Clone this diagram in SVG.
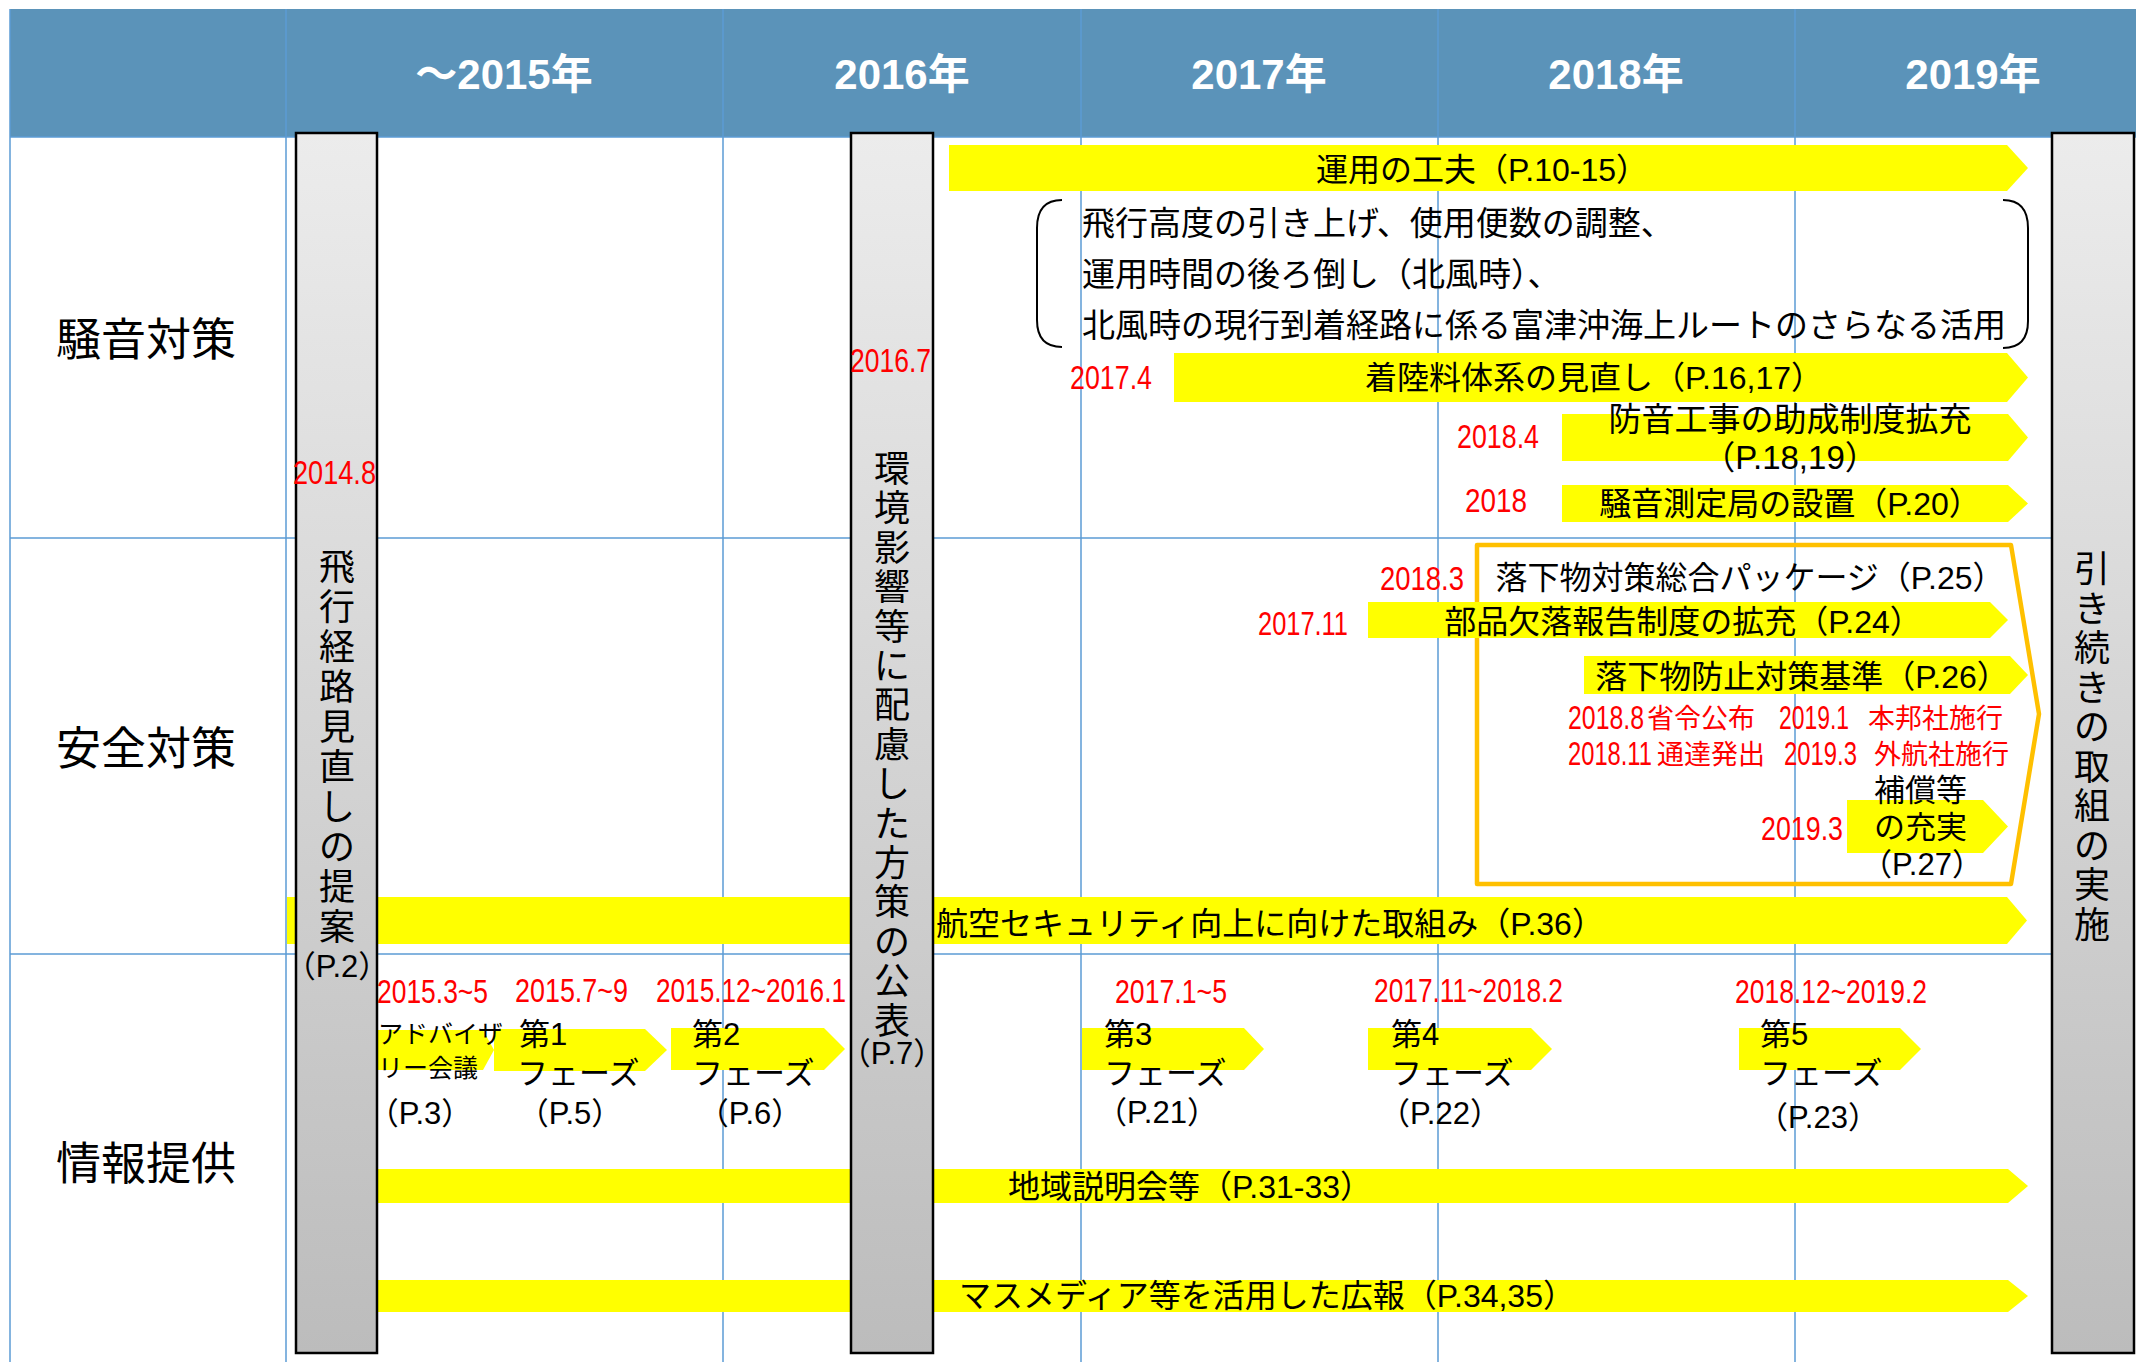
<svg xmlns="http://www.w3.org/2000/svg" width="2136" height="1362" viewBox="0 0 2136 1362">
<defs>
<linearGradient id="barg" x1="0" y1="0" x2="0" y2="1">
<stop offset="0" stop-color="#ececec"/>
<stop offset="1" stop-color="#bcbcbc"/>
</linearGradient>
<style>
text { font-family: "Liberation Sans", "Noto Sans CJK JP", sans-serif; fill: #000; }
.hd { font-size: 42px; font-weight: bold; fill: #fff; text-anchor: middle; }
.row { font-size: 45px; text-anchor: middle; }
.m { font-size: 32px; }
.c { text-anchor: middle; }
.v { font-size: 36px; text-anchor: middle; }
.red { fill: #ff0000; font-size: 34px; }
.redj { fill: #ff0000; font-size: 27px; }
.s25 { font-size: 25px; }
.s31 { font-size: 31px; }
.arr { fill: #ffff00; }
.grid { stroke: #5b9bd5; stroke-width: 1.5; fill: none; }
.bar { fill: url(#barg); stroke: #000; stroke-width: 2.5; }
.brk { fill: none; stroke: #000; stroke-width: 2; }
</style>
</defs>
<rect x="0" y="0" width="2136" height="1362" fill="#fff"/>
<g id="header">
<rect x="10" y="9" width="2126" height="128" fill="#5b93b9"/>
<text class="hd" x="504" y="89">～2015年</text>
<text class="hd" x="902" y="89">2016年</text>
<text class="hd" x="1259" y="89">2017年</text>
<text class="hd" x="1616" y="89">2018年</text>
<text class="hd" x="1973" y="89">2019年</text>
</g>
<g id="grid">
<line class="grid" x1="10" y1="9" x2="10" y2="1362"/>
<line class="grid" x1="286" y1="9" x2="286" y2="1362"/>
<line class="grid" x1="723" y1="9" x2="723" y2="1362"/>
<line class="grid" x1="1081" y1="9" x2="1081" y2="1362"/>
<line class="grid" x1="1438" y1="9" x2="1438" y2="1362"/>
<line class="grid" x1="1795" y1="9" x2="1795" y2="1362"/>
<line class="grid" x1="10" y1="137" x2="2136" y2="137"/>
<line class="grid" x1="10" y1="538" x2="2052" y2="538"/>
<line class="grid" x1="10" y1="954" x2="2052" y2="954"/>
</g>
<g id="row-labels">
<text class="row" x="146" y="356">騒音対策</text>
<text class="row" x="146" y="765">安全対策</text>
<text class="row" x="146" y="1180">情報提供</text>
</g>
<g id="safety-box">
<polygon points="1477,545 2011,545 2039,714 2011,884 1477,884" fill="none" stroke="#ffc000" stroke-width="4.5" stroke-linejoin="round"/>
</g>
<g id="connectors">
<polygon class="arr" points="949,145 2007,145 2028,168 2007,191 949,191"/>
<polygon class="arr" points="1174,353 2007,353 2028,377.5 2007,402 1174,402"/>
<polygon class="arr" points="1562,414 2008,414 2028,437.5 2008,461 1562,461"/>
<polygon class="arr" points="1562,485 2008,485 2028,503.5 2008,522 1562,522"/>
<polygon class="arr" points="1368,602 1990,602 2008,620 1990,638 1368,638"/>
<polygon class="arr" points="1584,656 2010,656 2028,675 2010,694 1584,694"/>
<polygon class="arr" points="1847,800 1983,800 2008,826.5 1983,853 1847,853"/>
<polygon class="arr" points="287,897 2007,897 2027,920.5 2007,944 287,944"/>
<polygon class="arr" points="360,1030 483,1030 494,1050 483,1070 360,1070"/>
<polygon class="arr" points="494,1029 645,1029 667,1050 645,1071 494,1071"/>
<polygon class="arr" points="671,1028 824,1028 845,1049 824,1070 671,1070"/>
<polygon class="arr" points="1082,1028 1244,1028 1264,1049 1244,1070 1082,1070"/>
<polygon class="arr" points="1368,1028 1531,1028 1552,1049 1531,1070 1368,1070"/>
<polygon class="arr" points="1739,1028 1900,1028 1921,1049 1900,1070 1739,1070"/>
<polygon class="arr" points="360,1169 2008,1169 2028,1186 2008,1203 360,1203"/>
<polygon class="arr" points="360,1280 2008,1280 2028,1296 2008,1312 360,1312"/>
<path class="brk" d="M1062,200 Q1037,200 1037,228 L1037,320 Q1037,347 1062,347"/>
<path class="brk" d="M2003,200 Q2028,200 2028,228 L2028,321 Q2028,348 2003,348"/>
</g>
<g id="bar-proposal">
<rect class="bar" x="296" y="133" width="81" height="1220"/>
<text class="v"><tspan x="337" y="580">飛</tspan><tspan x="337" y="620">行</tspan><tspan x="337" y="660">経</tspan><tspan x="337" y="700">路</tspan><tspan x="337" y="740">見</tspan><tspan x="337" y="780">直</tspan><tspan x="337" y="820">し</tspan><tspan x="337" y="860">の</tspan><tspan x="337" y="900">提</tspan><tspan x="337" y="940">案</tspan></text>
<text class="s31 c" x="337" y="977">（P.2）</text>
<text class="red" x="293" y="484" textLength="83" lengthAdjust="spacingAndGlyphs">2014.8</text>
</g>
<g id="bar-publish">
<rect class="bar" x="851" y="133" width="82" height="1220"/>
<text class="v"><tspan x="892" y="482">環</tspan><tspan x="892" y="521.4">境</tspan><tspan x="892" y="560.8">影</tspan><tspan x="892" y="600.2">響</tspan><tspan x="892" y="639.6">等</tspan><tspan x="892" y="679">に</tspan><tspan x="892" y="718.4">配</tspan><tspan x="892" y="757.8">慮</tspan><tspan x="892" y="797.2">し</tspan><tspan x="892" y="836.6">た</tspan><tspan x="892" y="876">方</tspan><tspan x="892" y="915.4">策</tspan><tspan x="892" y="954.8">の</tspan><tspan x="892" y="994.2">公</tspan><tspan x="892" y="1033.6">表</tspan></text>
<text class="s31 c" x="892" y="1064">（P.7）</text>
<text class="red" x="850" y="372" textLength="81" lengthAdjust="spacingAndGlyphs">2016.7</text>
</g>
<g id="bar-continue">
<rect class="bar" x="2052" y="133" width="82" height="1220"/>
<text class="v"><tspan x="2092" y="582">引</tspan><tspan x="2092" y="621.5">き</tspan><tspan x="2092" y="661">続</tspan><tspan x="2092" y="700.5">き</tspan><tspan x="2092" y="740">の</tspan><tspan x="2092" y="779.5">取</tspan><tspan x="2092" y="819">組</tspan><tspan x="2092" y="858.5">の</tspan><tspan x="2092" y="898">実</tspan><tspan x="2092" y="937.5">施</tspan></text>
</g>
<g id="noise">
<text class="m c" x="1482" y="181">運用の工夫（P.10-15）</text>
<text style="font-size:33px" x="1082" y="235">飛行高度の引き上げ、使用便数の調整、</text>
<text style="font-size:33px" x="1082" y="286">運用時間の後ろ倒し（北風時）、</text>
<text style="font-size:33px" x="1082" y="337">北風時の現行到着経路に係る富津沖海上ルートのさらなる活用</text>
<text class="red" x="1070" y="389" textLength="82" lengthAdjust="spacingAndGlyphs">2017.4</text>
<text class="m c" x="1594" y="389">着陸料体系の見直し（P.16,17）</text>
<text class="red" x="1457" y="448" textLength="82" lengthAdjust="spacingAndGlyphs">2018.4</text>
<text class="c" style="font-size:33px" x="1790" y="431">防音工事の助成制度拡充</text>
<text class="c" style="font-size:33px" x="1790" y="469">（P.18,19）</text>
<text class="red" x="1465" y="512" textLength="62" lengthAdjust="spacingAndGlyphs">2018</text>
<text class="m c" x="1790" y="515">騒音測定局の設置（P.20）</text>
</g>
<g id="safety">
<text class="red" x="1380" y="590" textLength="84" lengthAdjust="spacingAndGlyphs">2018.3</text>
<text class="m c" x="1750" y="589">落下物対策総合パッケージ（P.25）</text>
<text class="red" x="1258" y="635" textLength="90" lengthAdjust="spacingAndGlyphs">2017.11</text>
<text class="m c" x="1683" y="633">部品欠落報告制度の拡充（P.24）</text>
<text class="m c" x="1802" y="688">落下物防止対策基準（P.26）</text>
<text class="red" x="1568" y="729" textLength="76" lengthAdjust="spacingAndGlyphs">2018.8</text>
<text class="redj" x="1647" y="728">省令公布</text>
<text class="red" x="1779" y="729" textLength="70" lengthAdjust="spacingAndGlyphs">2019.1</text>
<text class="redj" x="1868" y="728">本邦社施行</text>
<text class="red" x="1568" y="765" textLength="84" lengthAdjust="spacingAndGlyphs">2018.11</text>
<text class="redj" x="1657" y="764">通達発出</text>
<text class="red" x="1784" y="765" textLength="73" lengthAdjust="spacingAndGlyphs">2019.3</text>
<text class="redj" x="1874" y="764">外航社施行</text>
<text style="font-size:31px" x="1874" y="801">補償等</text>
<text class="red" x="1761" y="840" textLength="82" lengthAdjust="spacingAndGlyphs">2019.3</text>
<text style="font-size:31px" x="1874" y="838">の充実</text>
<text class="s31 c" x="1922" y="875">（P.27）</text>
<text class="m c" x="1270" y="935">航空セキュリティ向上に向けた取組み（P.36）</text>
</g>
<g id="info">
<text class="red" x="377" y="1003" textLength="111" lengthAdjust="spacingAndGlyphs">2015.3~5</text>
<text class="red" x="515" y="1002" textLength="113" lengthAdjust="spacingAndGlyphs">2015.7~9</text>
<text class="red" x="656" y="1002" textLength="190" lengthAdjust="spacingAndGlyphs">2015.12~2016.1</text>
<text class="red" x="1115" y="1003" textLength="112" lengthAdjust="spacingAndGlyphs">2017.1~5</text>
<text class="red" x="1374" y="1002" textLength="189" lengthAdjust="spacingAndGlyphs">2017.11~2018.2</text>
<text class="red" x="1735" y="1003" textLength="192" lengthAdjust="spacingAndGlyphs">2018.12~2019.2</text>
<text class="s25" x="378" y="1043">アドバイザ</text>
<text class="s25" x="378" y="1077">リー会議</text>
<text class="s31 c" x="420" y="1124">（P.3）</text>
<text class="s31" x="519" y="1045">第1</text>
<text class="s31" x="517" y="1084">フェーズ</text>
<text class="s31 c" x="570" y="1124">（P.5）</text>
<text class="s31" x="692" y="1045">第2</text>
<text class="s31" x="692" y="1084">フェーズ</text>
<text class="s31 c" x="750" y="1124">（P.6）</text>
<text class="s31" x="1104" y="1045">第3</text>
<text class="s31" x="1104" y="1084">フェーズ</text>
<text class="s31 c" x="1157" y="1123">（P.21）</text>
<text class="s31" x="1391" y="1045">第4</text>
<text class="s31" x="1391" y="1084">フェーズ</text>
<text class="s31 c" x="1440" y="1124">（P.22）</text>
<text class="s31" x="1760" y="1045">第5</text>
<text class="s31" x="1760" y="1084">フェーズ</text>
<text class="s31 c" x="1818" y="1128">（P.23）</text>
<text class="m c" x="1190" y="1198">地域説明会等（P.31-33）</text>
<text class="m c" x="1267" y="1307">マスメディア等を活用した広報（P.34,35）</text>
</g>
</svg>
